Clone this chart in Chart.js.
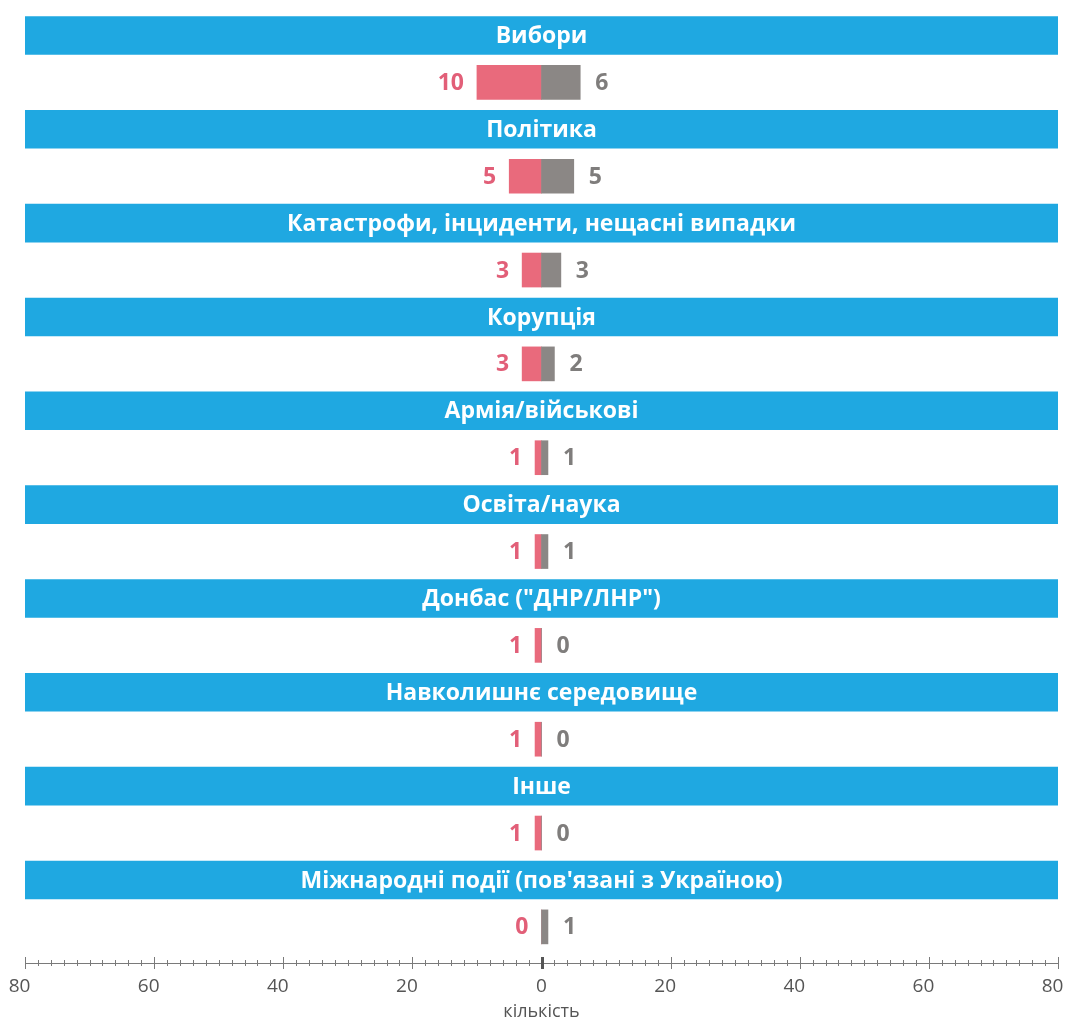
<!DOCTYPE html>
<html>
<head>
<meta charset="utf-8">
<script src="https://cdn.jsdelivr.net/npm/chart.js@4"></script>
<style>
  html, body { margin: 0; padding: 0; background: #fff; }
</style>
</head>
<body>
<canvas id="topicsChart" width="1065" height="1019"></canvas>
<script>
// topics chart: diverging bars, left = red series, right = grey series

const categories = [
    'Вибори',
    'Політика',
    'Катастрофи, інциденти, нещасні випадки',
    'Корупція',
    'Армія/військові',
    'Освіта/наука',
    'Донбас ("ДНР/ЛНР")',
    'Навколишнє середовище',
    'Інше',
    'Міжнародні події (пов\'язані з Україною)'
];
const leftValues = [10, 5, 3, 3, 1, 1, 1, 1, 1, 0];
const rightValues = [6, 5, 3, 2, 1, 1, 0, 0, 0, 1];
const axisMin = -80;
const axisMax = 80;
const axisTitle = 'кількість';

const BLUE = '#1fa8e1';
const RED = '#e96a7c';
const GREY = '#8b8785';
const RED_TEXT = '#e25f78';
const GREY_TEXT = '#7f7d7c';
const FONT = '"Open Sans", "Noto Sans", sans-serif';

// each category takes two rows: banner row (even) and bar row (odd)
const bannerData = categories.map((c, i) => ({ y: i * 2, x: [axisMin, axisMax] }));
const leftData = leftValues.map((v, i) => ({ y: i * 2 + 1, x: [-v, 0] }));
const rightData = rightValues.map((v, i) => ({ y: i * 2 + 1, x: [0, v] }));

const labelsPlugin = {
    id: 'labelsPlugin',
    afterDatasetsDraw(chart) {
        const ctx = chart.ctx;
        const area = chart.chartArea;
        const midX = (area.left + area.right) / 2;

        // banner titles
        ctx.save();
        ctx.fillStyle = '#ffffff';
        ctx.font = 'bold 23px ' + FONT;
        ctx.textAlign = 'center';
        ctx.textBaseline = 'middle';
        chart.getDatasetMeta(0).data.forEach((el, i) => {
            ctx.fillText(categories[i], midX, el.y + 1);
        });

        // value labels
        ctx.font = 'bold 23px ' + FONT;
        chart.getDatasetMeta(1).data.forEach((el, i) => {
            const left = Math.min(el.x, el.base);
            ctx.fillStyle = RED_TEXT;
            ctx.textAlign = 'right';
            ctx.fillText(String(leftValues[i]), left - 13, el.y + 1);
        });
        chart.getDatasetMeta(2).data.forEach((el, i) => {
            const right = Math.max(el.x, el.base);
            ctx.fillStyle = GREY_TEXT;
            ctx.textAlign = 'left';
            ctx.fillText(String(rightValues[i]), right + 15, el.y + 1);
        });
        ctx.restore();
    },
    afterDraw(chart) {
        // little cross ticks on the axis line
        const ctx = chart.ctx;
        const xScale = chart.scales.x;
        const y = chart.chartArea.bottom;
        ctx.save();
        xScale.ticks.forEach(t => {
            const px = xScale.getPixelForValue(t.value);
            let half = 3;
            ctx.lineWidth = 1;
            ctx.strokeStyle = '#7a7a7a';
            if (t.value === 0) {
                half = 6;
                ctx.lineWidth = 3;
                ctx.strokeStyle = '#555555';
            } else if (t.value % 20 === 0) {
                half = 6;
            }
            ctx.beginPath();
            ctx.moveTo(Math.round(px) + 0.5, y - half);
            ctx.lineTo(Math.round(px) + 0.5, y + half);
            ctx.stroke();
        });
        ctx.restore();
    }
};

const ctx = document.getElementById('topicsChart').getContext('2d');
new Chart(ctx, {
    type: 'bar',
    data: {
        datasets: [
            {
                label: 'banner',
                data: bannerData,
                backgroundColor: BLUE,
                barThickness: 38,
                grouped: false,
                order: 3
            },
            {
                label: 'left',
                data: leftData,
                backgroundColor: RED,
                barThickness: 34,
                grouped: false,
                order: 2
            },
            {
                label: 'right',
                data: rightData,
                backgroundColor: GREY,
                barThickness: 34,
                grouped: false,
                order: 1
            }
        ]
    },
    options: {
        indexAxis: 'y',
        responsive: false,
        animation: false,
        layout: {
            padding: { top: 12, left: 25, right: 7, bottom: 0 }
        },
        plugins: {
            legend: { display: false },
            tooltip: { enabled: false }
        },
        scales: {
            y: {
                type: 'linear',
                reverse: true,
                offset: false,
                min: -0.5,
                max: 19.77,
                display: false
            },
            x: {
                type: 'linear',
                min: axisMin,
                max: axisMax,
                afterFit: scale => {
                    scale.height = 56;
                    scale.paddingLeft = 0;
                    scale.paddingRight = 0;
                },
                grid: { display: false, drawTicks: false },
                border: { display: true, color: '#7a7a7a', width: 1 },
                ticks: {
                    stepSize: 2,
                    maxTicksLimit: 200,
                    autoSkip: false,
                    maxRotation: 0,
                    padding: 12,
                    color: '#555555',
                    font: { family: FONT, size: 19 },
                    // non-zero labels sit a little left of their tick, as in the original
                    callback: v => {
                        if (v % 20 !== 0) return '';
                        return v === 0 ? '0' : Math.abs(v) + '\u2007';
                    }
                },
                title: {
                    display: true,
                    text: axisTitle,
                    color: '#555555',
                    font: { family: FONT, size: 18 },
                    padding: { top: 0, bottom: -4 }
                }
            }
        }
    },
    plugins: [labelsPlugin]
});
</script>
</body>
</html>
